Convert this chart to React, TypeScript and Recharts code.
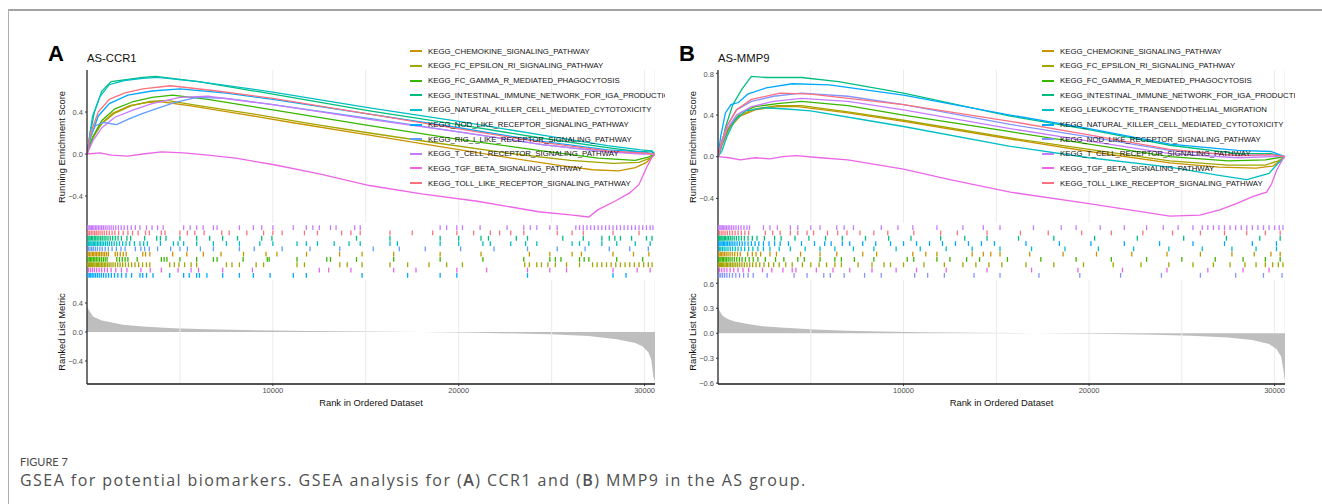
import React from 'react';
import {
  LineChart,
  Line,
  XAxis,
  YAxis,
  CartesianGrid,
  ReferenceLine,
  ScatterChart,
  Scatter,
  AreaChart,
  Area,
} from 'recharts';

type Pt = [number, number];

// ranks in the ordered list
const N_A = 30560;
const N_B = 30560;

// ---------- panel A : AS-CCR1 ----------
const namesA = [
  'KEGG_CHEMOKINE_SIGNALING_PATHWAY',
  'KEGG_FC_EPSILON_RI_SIGNALING_PATHWAY',
  'KEGG_FC_GAMMA_R_MEDIATED_PHAGOCYTOSIS',
  'KEGG_INTESTINAL_IMMUNE_NETWORK_FOR_IGA_PRODUCTION',
  'KEGG_NATURAL_KILLER_CELL_MEDIATED_CYTOTOXICITY',
  'KEGG_NOD_LIKE_RECEPTOR_SIGNALING_PATHWAY',
  'KEGG_RIG_I_LIKE_RECEPTOR_SIGNALING_PATHWAY',
  'KEGG_T_CELL_RECEPTOR_SIGNALING_PATHWAY',
  'KEGG_TGF_BETA_SIGNALING_PATHWAY',
  'KEGG_TOLL_LIKE_RECEPTOR_SIGNALING_PATHWAY',
];
const colorsA = ['#C99400', '#A3A500', '#39B600', '#00BF7D', '#00BFC4', '#00A9FF', '#619CFF', '#C77CFF', '#EC65E6', '#FC717F'];

const esA_CHEMOKINE: Pt[] = [[0, 0], [250, 0.13], [700, 0.28], [1400, 0.39], [2300, 0.46], [3200, 0.49], [3900, 0.5], [5500, 0.46], [8000, 0.39], [11000, 0.3], [15200, 0.18], [19000, 0.07], [22500, -0.03], [25500, -0.11], [27200, -0.15], [28600, -0.16], [29500, -0.13], [30100, -0.08], [30560, 0]];
const esA_FC_EPSILON: Pt[] = [[0, 0], [300, 0.15], [800, 0.29], [1500, 0.39], [2400, 0.46], [3400, 0.5], [4300, 0.51], [6000, 0.46], [9000, 0.38], [12000, 0.29], [15200, 0.2], [19000, 0.1], [23000, 0.0], [26000, -0.06], [28300, -0.09], [29700, -0.08], [30300, -0.04], [30560, 0]];
const esA_FC_GAMMA: Pt[] = [[0, 0], [300, 0.16], [800, 0.32], [1500, 0.43], [2500, 0.5], [3500, 0.54], [4600, 0.56], [6500, 0.52], [10000, 0.42], [15200, 0.27], [20000, 0.14], [24500, 0.03], [27500, -0.04], [29500, -0.06], [30200, -0.03], [30560, 0]];
const esA_INTESTINAL: Pt[] = [[0, 0], [150, 0.18], [400, 0.4], [800, 0.6], [1300, 0.69], [2200, 0.71], [3000, 0.73], [3700, 0.74], [6000, 0.69], [10000, 0.57], [15200, 0.41], [20000, 0.28], [24500, 0.15], [28000, 0.06], [29800, 0.02], [30300, 0.03], [30560, 0]];
const esA_NATURAL: Pt[] = [[0, 0], [100, 0.12], [300, 0.36], [700, 0.55], [1200, 0.66], [2000, 0.7], [3000, 0.72], [3800, 0.73], [6000, 0.69], [10000, 0.59], [15200, 0.44], [20000, 0.31], [24500, 0.18], [28000, 0.08], [29800, 0.04], [30400, 0.03], [30560, 0]];
const esA_NOD: Pt[] = [[0, 0], [200, 0.16], [600, 0.36], [1200, 0.48], [2200, 0.56], [3500, 0.6], [5000, 0.62], [7500, 0.58], [10000, 0.52], [15200, 0.38], [20000, 0.25], [24500, 0.12], [28000, 0.04], [29800, 0.02], [30560, 0]];
const esA_RIG_I: Pt[] = [[0, 0], [150, 0.15], [450, 0.27], [900, 0.3], [1600, 0.28], [2200, 0.33], [2900, 0.38], [3700, 0.43], [4700, 0.49], [5900, 0.54], [7500, 0.53], [10000, 0.47], [15200, 0.34], [20000, 0.21], [24500, 0.09], [28000, 0.02], [29800, 0.01], [30560, 0]];
const esA_T_CELL: Pt[] = [[0, 0], [300, 0.12], [800, 0.25], [1500, 0.35], [2500, 0.42], [3500, 0.48], [5000, 0.54], [6500, 0.55], [10000, 0.47], [15200, 0.33], [20000, 0.21], [24500, 0.09], [28000, 0.02], [29800, 0.0], [30560, 0]];
const esA_TGF: Pt[] = [[0, 0], [700, 0.01], [1300, -0.01], [2200, -0.02], [3000, 0.0], [4000, 0.02], [5200, 0.01], [6500, -0.01], [8000, -0.04], [10000, -0.1], [12500, -0.19], [15200, -0.3], [18000, -0.38], [21000, -0.45], [24300, -0.55], [26000, -0.58], [27000, -0.6], [27500, -0.53], [28400, -0.45], [29200, -0.37], [29700, -0.29], [30100, -0.13], [30400, -0.03], [30560, 0]];
const esA_TOLL: Pt[] = [[0, 0], [200, 0.2], [600, 0.4], [1200, 0.52], [2000, 0.58], [3000, 0.62], [4500, 0.65], [7000, 0.6], [10000, 0.53], [15200, 0.38], [20000, 0.24], [24500, 0.11], [28000, 0.03], [29800, 0.01], [30560, 0]];

// hit positions (ranks) for the rug rows
const rugA_CHEMOKINE = [60, 130, 210, 290, 360, 440, 520, 600, 680, 770, 860, 950, 1050, 1150, 1520, 1640, 1790, 1950, 2110, 3000, 3150, 3380, 4610, 5370, 6260, 7210, 8420, 9630, 10220, 11810, 13590, 14800, 16500, 19000, 21200, 23800, 24900, 26100, 26600, 28300, 29400, 30230];
const rugA_FC_EPSILON = [40, 90, 140, 200, 250, 310, 370, 430, 500, 560, 630, 700, 770, 850, 930, 1010, 1100, 1190, 1290, 1400, 1520, 1650, 1780, 1920, 2070, 2230, 2400, 2580, 2780, 2990, 3200, 3380, 4450, 4700, 4950, 5250, 5600, 5900, 7500, 7800, 8200, 9100, 9500, 11300, 11700, 13600, 14000, 14800, 16300, 17250, 18400, 19350, 20200, 23550, 23800, 24200, 24450, 24800, 25200, 25800, 26500, 27200, 27450, 27700, 27950, 28200, 28450, 28700, 28950, 29200, 29450, 29700, 29950, 30200, 30400];
const rugA_FC_GAMMA = [50, 120, 190, 260, 340, 420, 500, 590, 680, 780, 880, 980, 1080, 1600, 1750, 1900, 2050, 2200, 2700, 4000, 4150, 4300, 5000, 5900, 6800, 7000, 8400, 9700, 9800, 11300, 12900, 13100, 14500, 16500, 19000, 21300, 23500, 24900, 25200, 25500, 26500, 26750, 27000, 28500, 29900];
const rugA_INTESTINAL = [50, 110, 170, 240, 310, 390, 470, 550, 640, 730, 820, 920, 1020, 1130, 1250, 1380, 1520, 1670, 1850, 2150, 2350, 3100, 3750, 3950, 4250, 5000, 5900, 6600, 7300, 8100, 9400, 9950, 14500, 16300, 19000, 20000, 21200, 21600, 23100, 23700, 25600, 26700, 27700, 28100, 28400, 28700, 29300, 30100, 30400];
const rugA_NATURAL = [40, 90, 150, 210, 270, 340, 410, 480, 560, 640, 720, 810, 900, 1000, 1100, 1210, 1330, 1460, 1600, 1750, 1920, 2100, 2300, 2550, 2850, 3050, 3250, 3950, 4650, 4900, 5200, 5900, 6800, 7500, 8200, 9300, 10000, 11300, 11800, 12400, 13300, 14100, 14700, 16300, 16700, 19000, 20000, 21300, 21700, 22800, 23600, 24200, 26100, 26500, 27000, 27700, 28500, 29500, 30300];
const rugA_NOD = [50, 120, 200, 280, 370, 460, 560, 660, 770, 890, 1020, 1160, 1310, 1480, 1660, 1860, 2100, 2400, 2850, 3000, 3200, 3550, 4450, 5200, 5500, 5900, 6050, 6450, 7300, 8200, 8950, 9850, 11100, 11800, 14800, 17250, 19000, 19900, 23700, 28300, 29000];
const rugA_RIG_I = [70, 160, 250, 340, 450, 560, 690, 820, 980, 1150, 1350, 1580, 1830, 2050, 2600, 2900, 3100, 3350, 3800, 4500, 5000, 5400, 6100, 6800, 8200, 9000, 10500, 12000, 13600, 15400, 16800, 18200, 20100, 21900, 23700, 25300, 26800, 28100, 29200, 30200];
const rugA_T_CELL = [50, 110, 170, 240, 300, 370, 450, 530, 610, 700, 790, 880, 980, 1080, 1190, 1300, 1420, 1550, 1690, 1840, 2000, 2180, 2380, 2600, 2850, 3200, 3500, 3800, 4100, 5200, 5550, 5900, 6250, 6800, 7000, 8200, 8950, 9400, 10000, 11100, 11800, 12150, 12500, 13100, 13400, 14400, 14700, 19000, 19350, 19900, 20200, 21150, 22600, 23500, 23850, 24200, 24900, 25300, 26300, 26500, 26700, 26900, 27100, 27300, 27500, 27700, 27900, 28100, 28300, 28500, 28700, 28900, 29100, 29300, 29500, 29700, 29900, 30100, 30300, 30450];
const rugA_TGF = [80, 180, 290, 400, 520, 650, 790, 940, 1100, 1300, 1550, 1850, 2150, 2900, 3400, 4000, 4900, 5600, 6000, 7300, 8900, 12500, 13000, 14200, 16500, 17700, 19900, 21500, 23700, 24900, 25800, 28300, 29600, 30300];
const rugA_TOLL = [60, 140, 230, 320, 410, 500, 600, 700, 810, 930, 1060, 1200, 1350, 1500, 1700, 1950, 2200, 2450, 2750, 3150, 3350, 4000, 4200, 5000, 5400, 5800, 6300, 7250, 7650, 8600, 9500, 10000, 10500, 11700, 12400, 13700, 14200, 14700, 16300, 17500, 18600, 19900, 20800, 21700, 22200, 22800, 23500, 25300, 26100, 26700, 28300, 29700];
// top-to-bottom order of the rug rows (index into namesA)
const rugOrderA = [7, 9, 3, 4, 6, 0, 2, 1, 8, 5];

const metricA: Pt[] = [[1, 0.35], [100, 0.3], [340, 0.21], [800, 0.16], [1940, 0.1], [3000, 0.075], [4640, 0.05], [6500, 0.038], [9000, 0.025], [12000, 0.015], [15000, 0.007], [18000, 0.0], [21000, -0.01], [24900, -0.03], [27000, -0.055], [28500, -0.1], [29500, -0.15], [29900, -0.2], [30200, -0.28], [30360, -0.38], [30480, -0.63], [30560, -0.68]];

// ---------- panel B : AS-MMP9 ----------
const namesB = [
  'KEGG_CHEMOKINE_SIGNALING_PATHWAY',
  'KEGG_FC_EPSILON_RI_SIGNALING_PATHWAY',
  'KEGG_FC_GAMMA_R_MEDIATED_PHAGOCYTOSIS',
  'KEGG_INTESTINAL_IMMUNE_NETWORK_FOR_IGA_PRODUCTION',
  'KEGG_LEUKOCYTE_TRANSENDOTHELIAL_MIGRATION',
  'KEGG_NATURAL_KILLER_CELL_MEDIATED_CYTOTOXICITY',
  'KEGG_NOD_LIKE_RECEPTOR_SIGNALING_PATHWAY',
  'KEGG_T_CELL_RECEPTOR_SIGNALING_PATHWAY',
  'KEGG_TGF_BETA_SIGNALING_PATHWAY',
  'KEGG_TOLL_LIKE_RECEPTOR_SIGNALING_PATHWAY',
];
const colorsB = ['#C99400', '#A3A500', '#39B600', '#00BF7D', '#00BFC4', '#00A9FF', '#8494FF', '#C77CFF', '#EC65E6', '#FC717F'];

const esB_CHEMOKINE: Pt[] = [[0, 0], [200, 0.1], [600, 0.27], [1200, 0.39], [2000, 0.45], [3200, 0.48], [4300, 0.48], [7000, 0.42], [10000, 0.34], [15750, 0.17], [20000, 0.05], [24350, -0.06], [27000, -0.1], [29000, -0.11], [29900, -0.09], [30300, -0.04], [30560, 0]];
const esB_FC_EPSILON: Pt[] = [[0, 0], [200, 0.11], [600, 0.28], [1200, 0.4], [2000, 0.46], [3200, 0.49], [4500, 0.49], [7000, 0.43], [10000, 0.35], [15750, 0.18], [20000, 0.07], [24350, -0.04], [27500, -0.08], [29500, -0.08], [30200, -0.04], [30560, 0]];
const esB_FC_GAMMA: Pt[] = [[0, 0], [200, 0.12], [600, 0.29], [1200, 0.42], [2000, 0.48], [3200, 0.51], [4500, 0.53], [7000, 0.49], [10000, 0.4], [15750, 0.24], [20000, 0.12], [24350, 0.0], [27500, -0.04], [29500, -0.03], [30200, -0.01], [30560, 0]];
const esB_INTESTINAL: Pt[] = [[0, 0], [150, 0.08], [400, 0.28], [800, 0.5], [1300, 0.65], [1800, 0.77], [2600, 0.76], [3500, 0.76], [4500, 0.76], [6500, 0.72], [10000, 0.61], [15750, 0.39], [20000, 0.26], [24350, 0.11], [28000, 0.03], [29800, 0.03], [30560, 0]];
const esB_LEUKOCYTE: Pt[] = [[0, 0], [200, 0.05], [500, 0.2], [900, 0.35], [1500, 0.44], [2500, 0.47], [3500, 0.46], [5000, 0.44], [8000, 0.35], [10000, 0.29], [15750, 0.1], [20000, -0.01], [24350, -0.1], [27000, -0.18], [28500, -0.22], [29700, -0.16], [30200, -0.06], [30560, 0]];
const esB_NATURAL: Pt[] = [[0, 0], [150, 0.2], [400, 0.42], [700, 0.5], [1100, 0.52], [1600, 0.6], [2600, 0.66], [4000, 0.7], [6000, 0.69], [10000, 0.59], [15750, 0.4], [20000, 0.27], [24350, 0.12], [28000, 0.06], [29800, 0.05], [30560, 0]];
const esB_NOD: Pt[] = [[0, 0], [200, 0.15], [500, 0.3], [1000, 0.45], [1800, 0.53], [3000, 0.58], [4500, 0.61], [7000, 0.58], [10000, 0.5], [15750, 0.31], [20000, 0.19], [24350, 0.06], [28000, 0.01], [29800, 0.02], [30560, 0]];
const esB_T_CELL: Pt[] = [[0, 0], [200, 0.12], [500, 0.27], [1000, 0.4], [1800, 0.48], [3000, 0.53], [4500, 0.56], [7000, 0.53], [10000, 0.45], [15750, 0.27], [20000, 0.15], [24350, 0.03], [28000, -0.01], [29800, 0.0], [30560, 0]];
const esB_TGF: Pt[] = [[0, 0], [600, -0.01], [1200, -0.03], [2000, -0.01], [2800, -0.02], [3500, 0.0], [4200, 0.01], [5500, -0.01], [7000, -0.03], [10000, -0.12], [12500, -0.22], [15750, -0.34], [20000, -0.45], [24350, -0.57], [25970, -0.56], [27040, -0.51], [27940, -0.45], [28850, -0.38], [29570, -0.34], [29840, -0.26], [30110, -0.13], [30450, -0.02], [30560, 0]];
const esB_TOLL: Pt[] = [[0, 0], [200, 0.15], [500, 0.3], [1000, 0.45], [1800, 0.55], [3350, 0.61], [5000, 0.6], [10000, 0.5], [15750, 0.34], [20000, 0.21], [24350, 0.07], [28000, 0.01], [29800, 0.02], [30560, 0]];

const rugB_CHEMOKINE = [50, 120, 190, 270, 350, 440, 540, 650, 770, 900, 1050, 1200, 1600, 1850, 2050, 2300, 2800, 3150, 4450, 5500, 6400, 7800, 8550, 10500, 11200, 11800, 13700, 14300, 14700, 15200, 16800, 18600, 20400, 22300, 24200, 26000, 27700, 28900, 29800, 30300];
const rugB_FC_EPSILON = [30, 80, 130, 190, 250, 310, 380, 450, 520, 600, 680, 770, 860, 960, 1060, 1170, 1290, 1420, 1560, 1710, 1870, 2050, 2250, 2480, 2730, 3000, 3300, 3650, 4000, 4550, 5000, 5450, 5850, 6300, 6650, 7550, 8300, 8950, 9300, 10000, 11100, 12200, 13200, 13900, 14600, 15300, 16600, 18100, 19700, 21300, 22800, 24300, 25600, 26700, 27600, 28400, 29000, 29500, 29900, 30200, 30450];
const rugB_FC_GAMMA = [40, 100, 160, 230, 300, 380, 460, 550, 650, 760, 880, 1010, 1150, 1300, 1480, 1680, 1900, 2150, 2550, 3100, 3550, 4300, 4650, 5500, 6300, 6650, 7350, 8400, 10200, 10550, 11800, 12500, 13400, 14100, 15600, 17400, 19300, 21200, 23100, 25000, 26800, 28300, 29500, 30300];
const rugB_INTESTINAL = [40, 90, 150, 210, 270, 340, 410, 490, 570, 660, 760, 870, 990, 1120, 1260, 1420, 1620, 1850, 2100, 2500, 3050, 3400, 4150, 4900, 5800, 6700, 7950, 9200, 10400, 12000, 13300, 14500, 16200, 18100, 20300, 22600, 25100, 27400, 29200, 30300];
const rugB_LEUKOCYTE = [70, 150, 240, 330, 430, 540, 660, 790, 930, 1080, 1250, 1440, 1650, 1880, 2150, 2450, 2800, 3300, 3900, 4700, 5500, 6300, 7300, 8400, 9600, 10900, 12300, 13700, 15200, 16900, 18700, 20500, 22400, 24300, 26100, 27700, 29000, 30100];
const rugB_NATURAL = [40, 100, 160, 220, 290, 360, 440, 520, 610, 700, 800, 910, 1030, 1160, 1300, 1450, 1620, 1800, 2000, 2200, 2450, 2750, 3050, 3350, 3800, 4500, 5200, 5750, 6100, 6700, 7100, 7800, 8500, 9300, 10000, 10700, 11400, 12100, 12800, 13500, 14200, 14900, 16600, 18400, 20100, 21900, 23800, 25600, 27300, 28800, 30100];
const rugB_NOD = [60, 150, 250, 360, 480, 620, 780, 960, 1160, 1380, 1620, 1900, 2650, 4100, 4800, 5700, 6050, 6800, 7900, 8800, 10600, 11300, 12200, 13800, 15200, 17300, 19500, 21700, 23900, 26000, 27900, 29400, 30400];
const rugB_T_CELL = [40, 100, 160, 230, 300, 380, 460, 550, 640, 740, 850, 970, 1100, 1240, 1400, 1560, 1700, 2450, 2800, 3200, 3900, 4300, 5000, 5500, 6400, 6800, 7300, 8800, 9700, 10500, 11800, 13200, 14300, 15200, 17000, 18500, 19300, 20600, 21900, 23100, 24000, 24800, 25600, 26100, 26400, 26700, 27000, 27300, 27600, 27900, 28200, 28500, 28800, 29100, 29400, 29700, 30000, 30250, 30450];
const rugB_TGF = [80, 200, 330, 480, 650, 850, 1080, 1350, 1650, 2400, 2900, 3500, 4000, 4200, 5300, 6200, 7100, 8300, 9600, 10700, 12300, 14500, 16900, 19400, 21800, 24200, 26400, 28300, 29700];
const rugB_TOLL = [70, 170, 270, 380, 500, 630, 770, 920, 1080, 1260, 1450, 1650, 2550, 2950, 3350, 3900, 4300, 4800, 5150, 5900, 6450, 6950, 7650, 8400, 9150, 10550, 12000, 12900, 14500, 16300, 17800, 19600, 21200, 22900, 24500, 26000, 27300, 28500, 29500, 30300];
const rugOrderB = [7, 9, 3, 5, 4, 0, 2, 1, 8, 6];

const metricB: Pt[] = [[1, 0.31], [100, 0.26], [250, 0.21], [520, 0.17], [900, 0.14], [1600, 0.11], [2400, 0.085], [3400, 0.068], [5200, 0.044], [7000, 0.03], [8760, 0.02], [11000, 0.012], [14000, 0.006], [17000, 0.0], [20000, -0.007], [23000, -0.015], [25500, -0.03], [27500, -0.05], [28800, -0.08], [29700, -0.13], [30100, -0.19], [30350, -0.28], [30480, -0.45], [30560, -0.58]];

// ---------- helpers ----------
const GRID = [5000, 10000, 15000, 20000, 25000, 30000];
const MAJOR = [10000, 20000, 30000];
const MINOR = [5000, 15000, 25000];
const FONT = "'Liberation Sans', Arial, Helvetica, sans-serif";
const AXW = 40;
const TOP = 70;
const ES_H = 153;
const RUG_H = 57;
const RL_H = 104;

const toXY = (pts: Pt[]) => pts.map(([x, y]) => ({ x, y }));
const fmt = (v: number) => (v < 0 ? '\u2212' : '') + Math.abs(v).toFixed(1);
const tickStyle = { fontSize: 7.5, fill: '#4D4D4D', fontFamily: FONT };

interface PanelProps {
  letter: string;
  title: string;
  x0: number;
  plotW: number;
  n: number;
  names: string[];
  colors: string[];
  curves: Pt[][];
  rugs: number[][];
  rugOrder: number[];
  metric: Pt[];
  esDomain: [number, number];
  esTicks: number[];
  rlDomain: [number, number];
  rlTicks: number[];
  legendX: number;
  clipX: number;
}

const Panel: React.FC<PanelProps> = (p) => {
  const W = AXW + p.plotW;
  const left = p.x0 - AXW;
  const cx = p.x0 + p.plotW / 2;
  return (
    <>
      <div style={{ position: 'absolute', left: p.x0 - 39, top: 41, fontFamily: FONT, fontWeight: 700, fontSize: 22, lineHeight: '26px' }}>
        {p.letter}
      </div>
      <div style={{ position: 'absolute', left: p.x0, top: 51, fontFamily: FONT, fontSize: 11.3, lineHeight: '14px', color: '#111' }}>
        {p.title}
      </div>

      {/* running enrichment score */}
      <div style={{ position: 'absolute', left, top: TOP }}>
        <LineChart width={W} height={ES_H} margin={{ top: 0, right: 0, bottom: 0, left: 0 }}>
          <CartesianGrid horizontal={false} stroke="#EBEBEB" strokeWidth={1} />
          <XAxis dataKey="x" type="number" domain={[0, p.n]} ticks={GRID} allowDataOverflow hide />
          <YAxis
            type="number"
            domain={p.esDomain}
            ticks={p.esTicks}
            allowDataOverflow
            width={AXW}
            tickFormatter={fmt}
            tick={tickStyle}
            tickSize={2}
            tickMargin={2}
            tickLine={{ stroke: '#333' }}
            axisLine={{ stroke: '#1a1a1a', strokeWidth: 1.2 }}
          />
          {p.curves.map((c, i) => (
            <Line
              key={p.names[i]}
              data={toXY(c)}
              dataKey="y"
              type="linear"
              stroke={p.colors[i]}
              strokeWidth={1.3}
              dot={false}
              isAnimationActive={false}
            />
          ))}
        </LineChart>
      </div>

      {/* rug of gene hits */}
      <div style={{ position: 'absolute', left, top: TOP + ES_H }}>
        <ScatterChart width={W} height={RUG_H} margin={{ top: 0, right: 0, bottom: 0, left: 0 }}>
          <XAxis dataKey="x" type="number" domain={[0, p.n]} allowDataOverflow hide />
          <YAxis
            dataKey="y"
            type="number"
            domain={[-0.88, 9.88]}
            reversed
            allowDataOverflow
            width={AXW}
            tick={false}
            tickLine={false}
            axisLine={{ stroke: '#1a1a1a', strokeWidth: 1.2 }}
          />
          {p.rugOrder.map((si, row) => (
            <Scatter
              key={p.names[si]}
              data={p.rugs[si].map((x) => ({ x, y: row }))}
              fill={p.colors[si]}
              isAnimationActive={false}
              shape={(s: any) => (
                <line x1={s.cx} x2={s.cx} y1={s.cy - 2.4} y2={s.cy + 2.4} stroke={p.colors[si]} strokeWidth={1.3} />
              )}
            />
          ))}
        </ScatterChart>
      </div>

      {/* ranked list metric */}
      <div style={{ position: 'absolute', left, top: TOP + ES_H + RUG_H }}>
        <AreaChart width={W} height={RL_H + 16} data={toXY(p.metric)} margin={{ top: 0, right: 0, bottom: 0, left: 0 }}>
          <CartesianGrid horizontal={false} stroke="#EBEBEB" strokeWidth={1} />
          <XAxis
            dataKey="x"
            type="number"
            domain={[0, p.n]}
            ticks={MAJOR}
            allowDataOverflow
            height={16}
            tick={tickStyle}
            tickSize={2}
            tickMargin={2}
            tickLine={{ stroke: '#333' }}
            axisLine={{ stroke: '#1a1a1a', strokeWidth: 1.5 }}
          />
          <YAxis
            type="number"
            domain={p.rlDomain}
            ticks={p.rlTicks}
            allowDataOverflow
            width={AXW}
            tickFormatter={fmt}
            tick={tickStyle}
            tickSize={2}
            tickMargin={2}
            tickLine={{ stroke: '#333' }}
            axisLine={{ stroke: '#1a1a1a', strokeWidth: 1.2 }}
          />
          {MINOR.map((m) => (
            <ReferenceLine key={m} x={m} stroke="#EBEBEB" strokeWidth={1} />
          ))}
          <Area dataKey="y" type="linear" stroke="none" fill="#BEBEBE" fillOpacity={1} baseValue={0} isAnimationActive={false} />
        </AreaChart>
      </div>

      {/* axis titles */}
      <div style={{ position: 'absolute', left: p.x0 - 26, top: 146.5, transform: 'translate(-50%, -50%) rotate(-90deg)', whiteSpace: 'nowrap', fontFamily: FONT, fontSize: 9.4, color: '#111' }}>
        Running Enrichment Score
      </div>
      <div style={{ position: 'absolute', left: p.x0 - 26, top: 332, transform: 'translate(-50%, -50%) rotate(-90deg)', whiteSpace: 'nowrap', fontFamily: FONT, fontSize: 9.4, color: '#111' }}>
        Ranked List Metric
      </div>
      <div style={{ position: 'absolute', left: cx, top: 402, transform: 'translate(-50%, -50%)', whiteSpace: 'nowrap', fontFamily: FONT, fontSize: 9.4, color: '#111' }}>
        Rank in Ordered Dataset
      </div>

      {/* legend (clipped at the panel edge, as in the figure) */}
      <div style={{ position: 'absolute', left: p.legendX, top: 44, width: p.clipX - p.legendX, overflow: 'hidden' }}>
        {p.names.map((nm, i) => (
          <div key={nm} style={{ height: 14.65, display: 'flex', alignItems: 'center', whiteSpace: 'nowrap' }}>
            <span style={{ display: 'inline-block', flexShrink: 0, width: 12, height: 2, background: p.colors[i], marginRight: 6 }} />
            <span style={{ flexShrink: 0, fontFamily: FONT, fontSize: 7.8, color: '#111' }}>{nm}</span>
          </div>
        ))}
      </div>
    </>
  );
};

export default function App() {
  return (
    <div style={{ position: 'absolute', left: 0, top: 0, width: 1322, height: 504, overflow: 'hidden', background: '#fff' }}>
      <div style={{ position: 'absolute', left: 8, top: 9, width: 1320, height: 500, borderTop: '2px solid #a3a3a3', borderLeft: '1.5px solid #b0b0b0' }} />
      <Panel
        letter="A"
        title="AS-CCR1"
        x0={87}
        plotW={568}
        n={N_A}
        names={namesA}
        colors={colorsA}
        curves={[esA_CHEMOKINE, esA_FC_EPSILON, esA_FC_GAMMA, esA_INTESTINAL, esA_NATURAL, esA_NOD, esA_RIG_I, esA_T_CELL, esA_TGF, esA_TOLL]}
        rugs={[rugA_CHEMOKINE, rugA_FC_EPSILON, rugA_FC_GAMMA, rugA_INTESTINAL, rugA_NATURAL, rugA_NOD, rugA_RIG_I, rugA_T_CELL, rugA_TGF, rugA_TOLL]}
        rugOrder={rugOrderA}
        metric={metricA}
        esDomain={[-0.657, 0.8]}
        esTicks={[-0.4, 0, 0.4]}
        rlDomain={[-0.717, 0.717]}
        rlTicks={[-0.4, 0, 0.4]}
        legendX={410}
        clipX={665}
      />
      <Panel
        letter="B"
        title="AS-MMP9"
        x0={718}
        plotW={567}
        n={N_B}
        names={namesB}
        colors={colorsB}
        curves={[esB_CHEMOKINE, esB_FC_EPSILON, esB_FC_GAMMA, esB_INTESTINAL, esB_LEUKOCYTE, esB_NATURAL, esB_NOD, esB_T_CELL, esB_TGF, esB_TOLL]}
        rugs={[rugB_CHEMOKINE, rugB_FC_EPSILON, rugB_FC_GAMMA, rugB_INTESTINAL, rugB_LEUKOCYTE, rugB_NATURAL, rugB_NOD, rugB_T_CELL, rugB_TGF, rugB_TOLL]}
        rugOrder={rugOrderB}
        metric={metricB}
        esDomain={[-0.636, 0.832]}
        esTicks={[-0.4, 0, 0.4, 0.8]}
        rlDomain={[-0.61, 0.64]}
        rlTicks={[-0.6, -0.3, 0, 0.3, 0.6]}
        legendX={1042}
        clipX={1295}
      />
      <div style={{ position: 'absolute', left: 20, top: 455, fontFamily: 'Lato, sans-serif', fontSize: 11, color: '#4a4a4a' }}>
        FIGURE 7
      </div>
      <div style={{ position: 'absolute', left: 20, top: 469, fontFamily: "'Open Sans', sans-serif", fontSize: 16, letterSpacing: 1.45, color: '#505050', whiteSpace: 'nowrap' }}>
        GSEA for potential biomarkers. GSEA analysis for (<b style={{ fontWeight: 600 }}>A</b>) CCR1 and (<b style={{ fontWeight: 600 }}>B</b>) MMP9 in the AS group.
      </div>
    </div>
  );
}
